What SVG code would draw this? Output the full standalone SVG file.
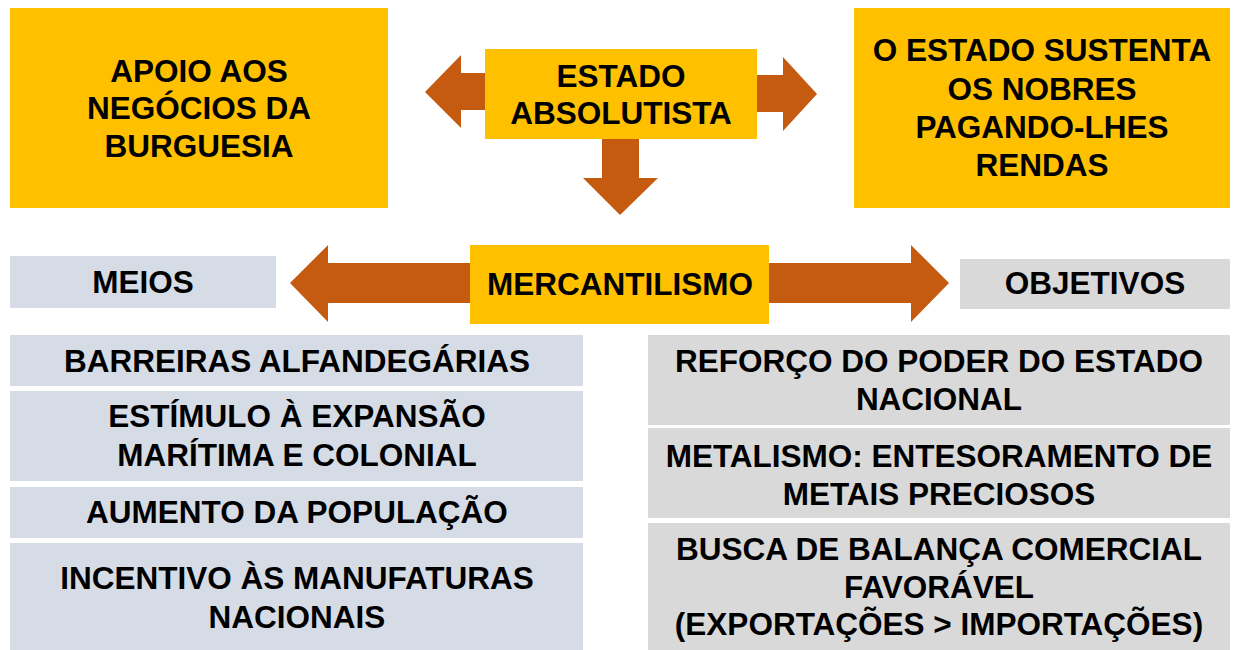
<svg xmlns="http://www.w3.org/2000/svg" width="1236" height="650" viewBox="0 0 1236 650">
<style>
.gold{fill:#FFC000}
.blue{fill:#D6DCE5}
.grey{fill:#D9D9D9}
.arr{fill:#C55A11}
text{font-family:"Liberation Sans",Arial,sans-serif;font-weight:bold;font-size:31.5px;fill:#000;text-anchor:middle}
</style>
<rect width="1236" height="650" fill="#fff"/>
<g id="connectors">
<polygon class="arr" points="485,73 461,73 461,55 425,92 461,128 461,110 485,110"/>
<polygon class="arr" points="757,75 783,75 783,57 817,94 783,131 783,112 757,112"/>
<polygon class="arr" points="602,139 639,139 639,178 658,178 620,215 583,178 602,178"/>
<polygon class="arr" points="470,263 328,263 328,245 290,283 328,322 328,303 470,303"/>
<polygon class="arr" points="769,263 911,263 911,245 949,283 911,322 911,303 769,303"/>
</g>
<g id="apoio">
<rect class="gold" x="10" y="8" width="378" height="200"/>
<text x="199" y="82">APOIO AOS</text>
<text x="199" y="119">NEGÓCIOS DA</text>
<text x="199" y="157">BURGUESIA</text>
</g>
<g id="sustenta">
<rect class="gold" x="854" y="8" width="376" height="200"/>
<text x="1042" y="61">O ESTADO SUSTENTA</text>
<text x="1042" y="100">OS NOBRES</text>
<text x="1042" y="138">PAGANDO-LHES</text>
<text x="1042" y="176">RENDAS</text>
</g>
<g id="estado">
<rect class="gold" x="485" y="49" width="272" height="90"/>
<text x="621" y="87">ESTADO</text>
<text x="621" y="124">ABSOLUTISTA</text>
</g>
<g id="mercantilismo">
<rect class="gold" x="470" y="245" width="299" height="79"/>
<text x="620" y="295">MERCANTILISMO</text>
</g>
<g id="meios">
<rect class="blue" x="10" y="256" width="266" height="52"/>
<text x="143" y="293">MEIOS</text>
</g>
<g id="objetivos">
<rect class="grey" x="960" y="259" width="270" height="50"/>
<text x="1095" y="294">OBJETIVOS</text>
</g>
<g id="barreiras">
<rect class="blue" x="10" y="335" width="573" height="51"/>
<text x="297" y="372">BARREIRAS ALFANDEGÁRIAS</text>
</g>
<g id="estimulo">
<rect class="blue" x="10" y="391" width="573" height="90"/>
<text x="297" y="427">ESTÍMULO À EXPANSÃO</text>
<text x="297" y="466">MARÍTIMA E COLONIAL</text>
</g>
<g id="aumento">
<rect class="blue" x="10" y="487" width="573" height="51"/>
<text x="297" y="523">AUMENTO DA POPULAÇÃO</text>
</g>
<g id="incentivo">
<rect class="blue" x="10" y="543" width="573" height="107"/>
<text x="297" y="589">INCENTIVO ÀS MANUFATURAS</text>
<text x="297" y="628">NACIONAIS</text>
</g>
<g id="reforco">
<rect class="grey" x="648" y="335" width="582" height="90"/>
<text x="939" y="372">REFORÇO DO PODER DO ESTADO</text>
<text x="939" y="410">NACIONAL</text>
</g>
<g id="metalismo">
<rect class="grey" x="648" y="428" width="582" height="90"/>
<text x="939" y="467">METALISMO: ENTESORAMENTO DE</text>
<text x="939" y="505">METAIS PRECIOSOS</text>
</g>
<g id="busca">
<rect class="grey" x="648" y="523" width="582" height="127"/>
<text x="939" y="560">BUSCA DE BALANÇA COMERCIAL</text>
<text x="939" y="598">FAVORÁVEL</text>
<text x="939" y="635">(EXPORTAÇÕES &gt; IMPORTAÇÕES)</text>
</g>
</svg>
